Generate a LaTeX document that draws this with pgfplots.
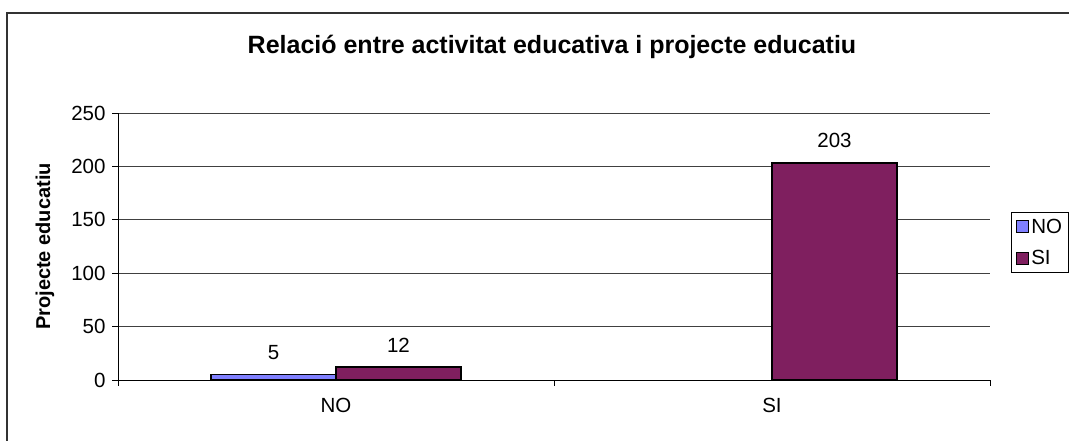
\documentclass[border=0pt]{standalone}
\usepackage{fontspec}
\setmainfont{Liberation Sans}
\usepackage{pgfplots}
\pgfplotsset{compat=1.18}
\definecolor{serA}{HTML}{8080FF}
\definecolor{serB}{HTML}{7F1F5F}
\begin{document}
\begin{tikzpicture}[x=1pt,y=1pt]
\useasboundingbox (0,0) rectangle (1069,441);
\draw[line width=1.2pt,black!80] (7,0) -- (7,428) -- (1069,428);
\node[font=\fontsize{25}{29}\selectfont\bfseries] at (552,394) {Relació entre activitat educativa i projecte educatiu};
\begin{axis}[
  at={(118pt,61pt)}, anchor=south west,
  scale only axis, width=872pt, height=267pt,
  ybar, bar width=125pt,
  xmin=-0.5, xmax=1.5, ymin=0, ymax=250,
  xtick={-0.5,0.5,1.5}, xticklabels={},
  extra x ticks={0,1}, extra x tick labels={NO,SI},
  extra x tick style={major tick length=0pt, grid=none},
  ytick={0,50,100,150,200,250},
  ymajorgrids, grid style={black!75, line width=0.8pt},
  axis x line*=bottom, axis y line*=left,
  axis line style={black, line width=0.9pt},
  tick style={black, line width=0.9pt},
  tick align=outside, major tick length=6pt,
  /pgf/number format/assume math mode=true,
  ticklabel style={font=\fontsize{20.5}{24}\selectfont},
  yticklabel style={xshift=-3pt},
  xticklabel style={yshift=-15pt},
  ylabel={\bfseries Projecte educatiu},
  ylabel style={font=\fontsize{20}{24}\selectfont, at={(axis description cs:-0.0837,0.5)}, anchor=center},
  nodes near coords,
  every node near coord/.append style={font=\fontsize{20.5}{24}\selectfont, yshift=11pt, black},
  legend style={at={(rel axis cs:1.0245,0.628)}, anchor=north west, draw=black, line width=0.9pt,
    font=\fontsize{20.5}{24}\selectfont, inner sep=4pt, row sep=12pt, cells={anchor=west}},
  legend image code/.code={\draw[#1,draw=black,line width=1.5pt] (0pt,-6pt) rectangle (12pt,6pt);},
  clip=false,
]
\addplot[fill=serA, draw=black, line width=1.5pt, bar shift=-62.5pt] coordinates {(0,5)};
\addplot[fill=serB, draw=black, line width=1.5pt, bar shift=62.5pt] coordinates {(0,12) (1,203)};
\legend{NO,SI}
\end{axis}
\end{tikzpicture}
\end{document}
